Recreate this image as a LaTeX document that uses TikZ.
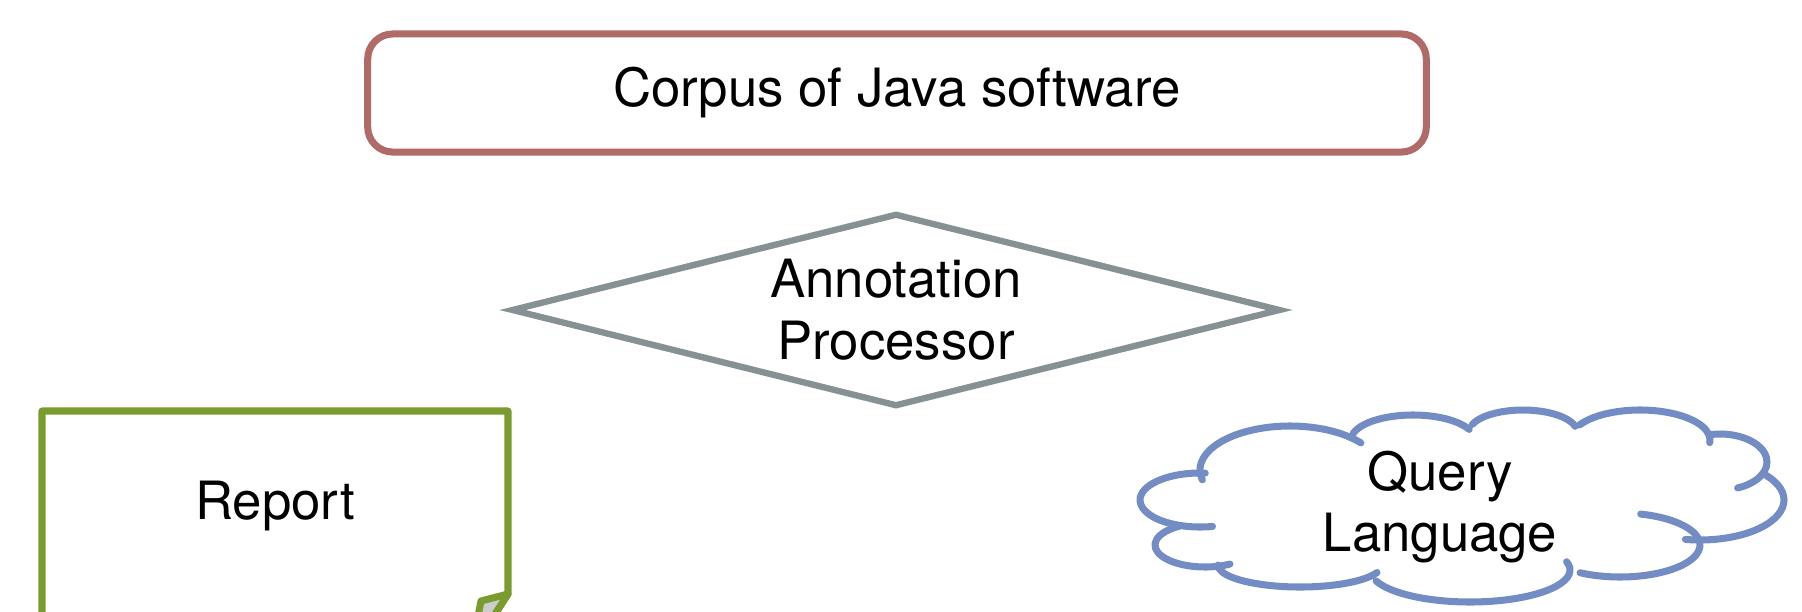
\documentclass[tikz,border=0pt]{standalone}
\usepackage{fontspec}
\setmainfont{TeX Gyre Heros}
\usetikzlibrary{shapes.geometric}
\definecolor{corpusred}{RGB}{176,106,104}
\definecolor{procgray}{RGB}{134,145,147}
\definecolor{reportgreen}{RGB}{122,155,45}
\definecolor{queryblue}{RGB}{116,140,196}
\definecolor{foldgray}{RGB}{205,205,205}

% one puff of the cloud: centre x, centre y, x radius, y radius, from, to
\newcommand{\puff}[6]{\draw[cloudline] (#1,#2) ++(#5:#3 and #4) arc[start angle=#5, end angle=#6, x radius=#3, y radius=#4];}

\begin{document}
\begin{tikzpicture}[x=0.01cm, y=0.01cm,
        txt/.style={font=\fontsize{15}{17.6}\selectfont, align=center},
        box/.style={rectangle, draw=corpusred, line width=2pt, rounded corners=0.25cm, minimum width=10.58cm, minimum height=1.18cm, txt},
        decision/.style={diamond, aspect=3.98, draw=procgray, line width=1.8pt, minimum width=7.69cm, minimum height=1.93cm, inner sep=0pt, txt},
        reportline/.style={draw=reportgreen, line width=2pt, line join=round},
        cloudline/.style={draw=queryblue, line width=2pt, line cap=round}
    ]
    \useasboundingbox (0,0) rectangle (1802,611);
    \clip (0,0) rectangle (1802,611);

    \node[box] (corpus) at (897,518) {Corpus of Java software};
    \node[decision] (proc) at (896,301) {Annotation\\Processor};

    \node[txt] (report) at (275,105) {Report};
    \draw[reportline] (42,-20) -- (42,200) -- (508,200) -- (508,17) -- (484,-20);
    \filldraw[reportline, fill=foldgray] (508,17) -- (481,10) -- (475,-20) -- (484,-20) -- cycle;

    \node[txt] (query) at (1440,104) {Query\\Language};
    \puff{1200}{111}{60}{27}{85}{282}
    \puff{1290}{141}{90}{44}{193}{38}
    \puff{1413}{171}{62}{25}{165}{25}
    \puff{1523}{179}{54}{22}{160}{15}
    \puff{1640}{171}{70}{30}{150}{-5}
    \puff{1720}{149}{47}{28}{100}{-68}
    \puff{1700}{111}{84}{40}{40}{-100}
    \puff{1620}{66}{80}{32}{75}{-120}
    \puff{1470}{41}{100}{32}{15}{-160}
    \puff{1300}{46}{82}{22}{-20}{-180}
    \puff{1205}{66}{50}{22}{120}{300}
\end{tikzpicture}
\end{document}
